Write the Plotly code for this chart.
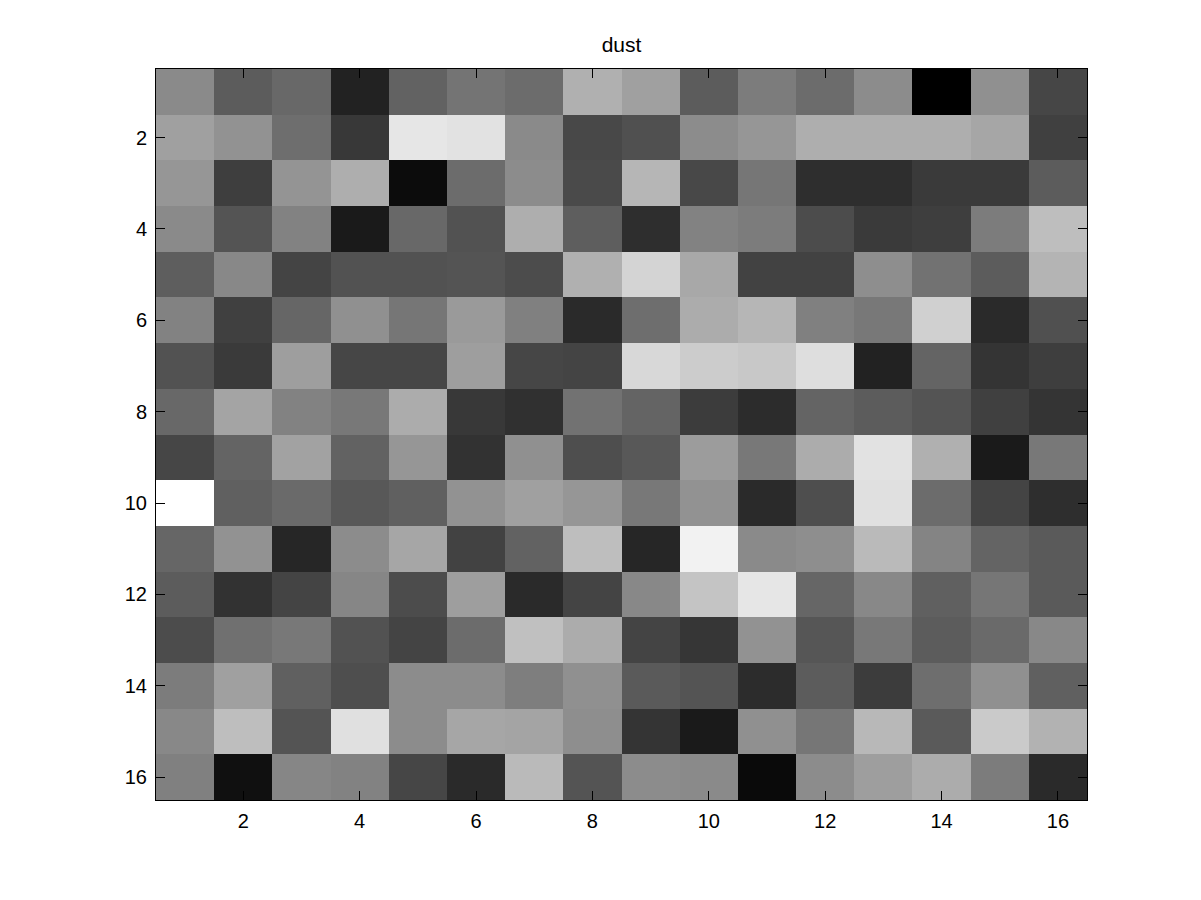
import plotly.graph_objects as go

title_text = "dust"
tick_values = [2, 4, 6, 8, 10, 12, 14, 16]
col_positions = list(range(1, 17))
row_positions = list(range(1, 17))
row01 = [138, 92, 104, 34, 98, 116, 108, 176, 160, 92, 124, 108, 140, 0, 144, 70]
row02 = [160, 146, 110, 56, 230, 226, 138, 72, 80, 140, 150, 174, 174, 174, 166, 64]
row03 = [150, 62, 148, 174, 12, 108, 140, 74, 182, 72, 118, 46, 46, 58, 58, 92]
row04 = [138, 84, 130, 26, 104, 82, 174, 94, 46, 130, 124, 76, 58, 62, 124, 190]
row05 = [94, 136, 68, 82, 82, 84, 76, 176, 212, 168, 66, 66, 142, 114, 92, 180]
row06 = [130, 64, 102, 144, 118, 154, 128, 42, 110, 172, 182, 128, 120, 208, 42, 80]
row07 = [82, 58, 158, 70, 70, 158, 70, 68, 216, 204, 200, 222, 34, 100, 52, 62]
row08 = [104, 164, 130, 120, 172, 56, 48, 114, 100, 60, 44, 100, 92, 84, 64, 52]
row09 = [70, 100, 162, 98, 150, 50, 144, 78, 88, 156, 120, 172, 226, 176, 26, 120]
row10 = [255, 96, 106, 88, 96, 146, 160, 150, 120, 146, 42, 78, 224, 108, 68, 46]
row11 = [102, 146, 38, 140, 166, 66, 98, 190, 38, 242, 138, 142, 186, 132, 100, 90]
row12 = [92, 50, 68, 134, 76, 158, 42, 68, 136, 196, 230, 102, 136, 96, 118, 90]
row13 = [76, 112, 120, 82, 68, 108, 192, 172, 68, 54, 146, 86, 120, 92, 106, 136]
row14 = [124, 160, 96, 78, 140, 140, 126, 144, 90, 84, 44, 92, 60, 110, 144, 96]
row15 = [136, 190, 84, 224, 140, 166, 164, 142, 52, 26, 144, 118, 184, 90, 202, 178]
row16 = [128, 16, 134, 130, 70, 42, 186, 84, 140, 138, 10, 140, 158, 172, 124, 42]
grid = [row01, row02, row03, row04, row05, row06, row07, row08,
        row09, row10, row11, row12, row13, row14, row15, row16]

# The page adds an 8 px body margin, so the figure is laid out 8 px up and left.
W, H = 1185, 884
L, R, T, B = 148, 1079, 61, 792

fig = go.Figure(go.Heatmap(
    z=grid, x=col_positions, y=row_positions,
    colorscale=[[0, "#000000"], [1, "#ffffff"]], zmin=0, zmax=255,
    showscale=False, xgap=0, ygap=0,
))
axis = dict(
    tickmode="array", tickvals=tick_values, ticks="inside", ticklen=9,
    tickwidth=1, tickcolor="#000000", showline=True, linecolor="#000000",
    linewidth=1, mirror="ticks", showgrid=False, zeroline=False, layer="above traces",
    tickfont=dict(family="Liberation Sans", size=20, color="#000000"),
)
fig.update_xaxes(range=[0.5, 16.5], ticklabelstandoff=3, **axis)
fig.update_yaxes(range=[16.5, 0.5], ticklabelstandoff=4, **axis)
fig.update_layout(
    width=W, height=H, autosize=False,
    margin=dict(l=L, r=W - R, t=T, b=H - B, pad=0),
    paper_bgcolor="#ffffff", plot_bgcolor="#ffffff",
    title=dict(text=title_text, x=(L + R) / 2 / W, xanchor="center",
               y=1 - 37 / H, yanchor="middle",
               font=dict(family="Liberation Sans", size=21, color="#000000")),
)
fig.write_html("out.html")
